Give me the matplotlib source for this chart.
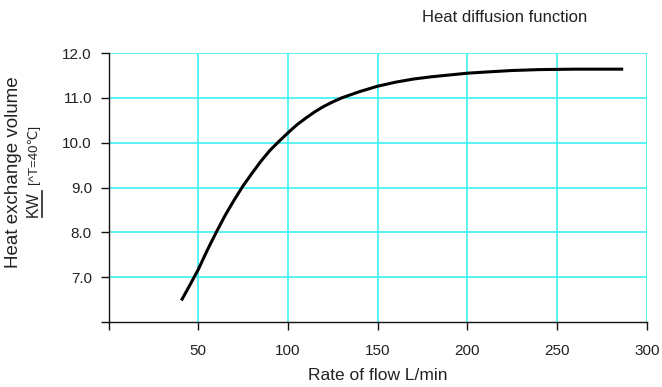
import matplotlib
matplotlib.use("Agg")
import matplotlib.pyplot as plt
from matplotlib.lines import Line2D

plt.rcParams["font.family"] = ["Liberation Sans", "DejaVu Sans"]

# curve
flow = [41, 45, 50, 55, 60, 65, 70, 75, 80, 85, 90, 95, 100, 105, 110, 115, 120,
        125, 130, 140, 150, 160, 170, 180, 190, 200, 212, 225, 240, 260, 286]
heat = [6.51, 6.8, 7.17, 7.6, 8.0, 8.38, 8.72, 9.04, 9.32, 9.59, 9.83, 10.03, 10.22,
        10.4, 10.55, 10.69, 10.81, 10.91, 11.0, 11.14, 11.26, 11.35, 11.42, 11.47,
        11.51, 11.55, 11.58, 11.61, 11.63, 11.64, 11.64]

x_ticks = [0, 50, 100, 150, 200, 250, 300]
x_labels = ["", "50", "100", "150", "200", "250", "300"]
y_ticks = [6, 7, 8, 9, 10, 11, 12]
y_labels = ["", "7.0", "8.0", "9.0", "10.0", "11.0", "12.0"]

TXT = "#222222"
GRID = "#40F0F0"

fig = plt.figure(figsize=(6.62, 3.87), dpi=100)
ax = fig.add_axes([0.164, 0.168, 0.813, 0.695])

ax.plot(flow, heat, color="black", linewidth=2.2, solid_joinstyle="round", zorder=3)

ax.set_xlim(0, 300)
ax.set_ylim(6, 12)
ax.set_xticks(x_ticks)
ax.set_xticklabels(x_labels)
ax.set_yticks(y_ticks)
ax.set_yticklabels(y_labels)

for x in x_ticks[1:]:
    ax.axvline(x, color=GRID, linewidth=1.2, zorder=1)
for y in y_ticks[1:]:
    ax.axhline(y, color=GRID, linewidth=1.2, zorder=1)

for side in ["top", "right"]:
    ax.spines[side].set_visible(False)
for side in ["left", "bottom"]:
    ax.spines[side].set_color("#111111")
    ax.spines[side].set_linewidth(1.0)

ax.tick_params(axis="both", direction="out", length=6, width=1.0, color="#111111",
               labelsize=11, labelcolor=TXT)
ax.tick_params(axis="y", pad=6)
ax.tick_params(axis="x", pad=10)

ax.set_xlabel("Rate of flow L/min", fontsize=12.5, color=TXT, labelpad=7)

fig.text(0.763, 0.956, "Heat diffusion function", fontsize=12, color=TXT,
         ha="center", va="center")

fig.text(0.021, 0.556, "Heat exchange volume", rotation=90, fontsize=13.5,
         color=TXT, ha="center", va="center")
kw = fig.text(0.05, 0.473, "KW", rotation=90, fontsize=11.5, color=TXT,
              ha="center", va="center")
fig.text(0.051, 0.601, "[^T=40\u2103]", rotation=90, fontsize=9.5, color=TXT,
         ha="center", va="center")

# underline for KW (rotated, so it sits on the right side)
fig.canvas.draw()
bb = kw.get_window_extent(fig.canvas.get_renderer())
W, H = fig.bbox.width, fig.bbox.height
ux = (bb.x1 + 1) / W
fig.add_artist(Line2D([ux, ux], [bb.y0 / H, bb.y1 / H], color=TXT, linewidth=1.2,
                      transform=fig.transFigure))

fig.savefig("out.png", dpi=100)
